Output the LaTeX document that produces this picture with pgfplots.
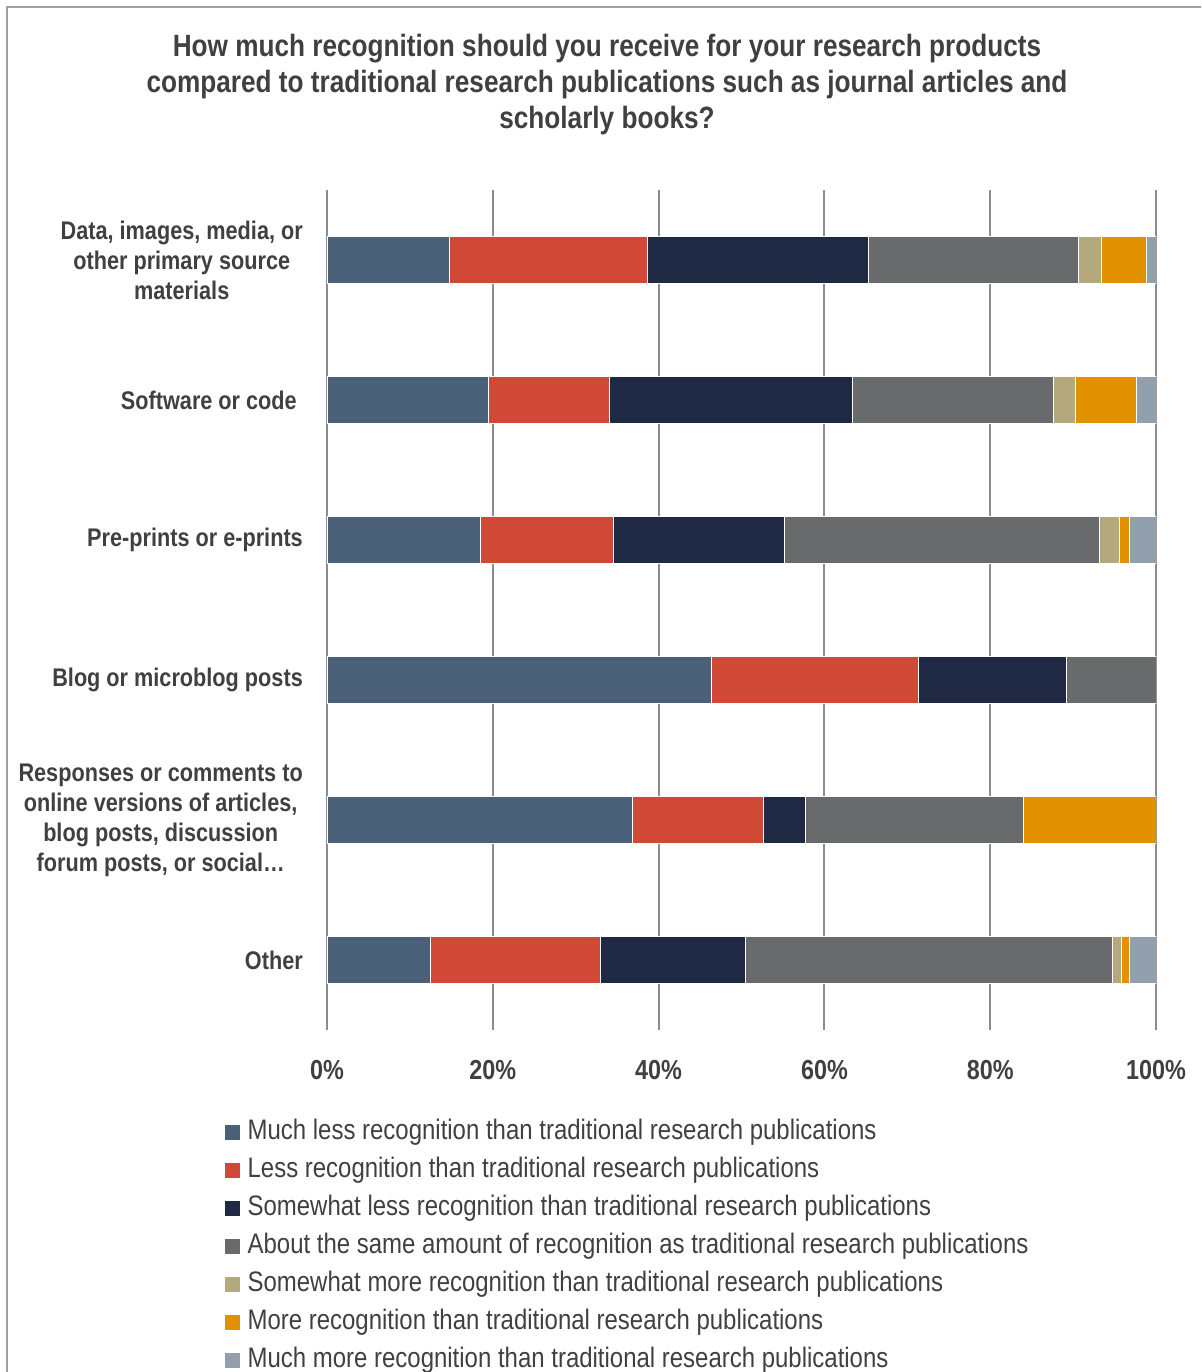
\documentclass[border=0pt]{standalone}
\usepackage{fontspec}
\setmainfont{Liberation Sans}[FakeStretch=0.85]
\usepackage{pgfplots}
\pgfplotsset{compat=1.18}
\definecolor{c1}{HTML}{4A6078}
\definecolor{c2}{HTML}{D04936}
\definecolor{c3}{HTML}{1F2944}
\definecolor{c4}{HTML}{696A6C}
\definecolor{c5}{HTML}{B4A97C}
\definecolor{c6}{HTML}{E19100}
\definecolor{c7}{HTML}{92A0AE}
\definecolor{txt}{HTML}{404040}
\definecolor{gridc}{HTML}{8C8C8C}
\definecolor{framec}{HTML}{A0A0A0}
\begin{document}
\begin{tikzpicture}[x=1pt,y=1pt]
\path[use as bounding box] (0,0) rectangle (1201,1372);
\draw[framec, line width=2pt] (7,0) -- (7,1365) -- (1201,1365);
\node[font=\fontsize{30.8}{36}\selectfont\bfseries, align=center, text=txt] at (607,1287)
  {How much recognition should you receive for your research products\\compared to traditional research publications such as journal articles and\\scholarly books?};
\begin{axis}[
  at={(327pt,342pt)}, anchor=south west,
  scale only axis, width=829pt, height=840pt,
  xbar stacked, bar width=47pt,
  xmin=0, xmax=100, ymin=-0.5, ymax=5.5, y dir=reverse,
  ytick={0,1,2,3,4,5},
  yticklabels={{Data, images, media, or\\other primary source\\materials},
               {Software or code\hspace*{6pt}},
               {Pre-prints or e-prints},
               {Blog or microblog posts},
               {Responses or comments to\\online versions of articles,\\blog posts, discussion\\forum posts, or social…},
               {Other}},
  yticklabel style={align=center, font=\fontsize{25.5}{30}\selectfont\bfseries, text=txt, inner sep=0pt, xshift=-24pt},
  xtick={0,20,40,60,80,100},
  xticklabels={0\%,20\%,40\%,60\%,80\%,100\%},
  xticklabel style={font=\fontsize{27.5}{30}\selectfont\bfseries, text=txt, inner sep=0pt, yshift=-30pt},
  axis line style={draw=none},
  major tick length=0pt,
  xmajorgrids, grid style={gridc, line width=2pt},
  every axis plot/.append style={draw=white, line width=0.4pt},
  legend image code/.code={\fill[#1] (-1pt,-8pt) rectangle (15pt,8pt);},
  legend cell align=left,
  legend style={at={(-0.1242,-0.1083)}, anchor=north west, draw=none, fill=none,
    inner sep=0pt, row sep=15pt, column sep=7pt,
    font=\fontsize{28.2}{28}\selectfont, text=txt,
    nodes={inner sep=0pt, text height=18pt, text depth=5pt}},
]
\addplot[fill=c1] coordinates {(14.7,0) (19.5,1) (18.5,2) (46.4,3) (36.8,4) (12.4,5)};
\addplot[fill=c2] coordinates {(23.9,0) (14.6,1) (16.0,2) (24.9,3) (15.8,4) (20.6,5)};
\addplot[fill=c3] coordinates {(26.7,0) (29.2,1) (20.6,2) (17.9,3) (5.1,4) (17.5,5)};
\addplot[fill=c4] coordinates {(25.3,0) (24.3,1) (38.1,2) (10.8,3) (26.3,4) (44.2,5)};
\addplot[fill=c5] coordinates {(2.8,0) (2.6,1) (2.4,2) (0,3) (0,4) (1.1,5)};
\addplot[fill=c6] coordinates {(5.4,0) (7.4,1) (1.2,2) (0,3) (16.0,4) (1.0,5)};
\addplot[fill=c7] coordinates {(1.2,0) (2.4,1) (3.2,2) (0,3) (0,4) (3.2,5)};
\legend{Much less recognition than traditional research publications,
Less recognition than traditional research publications,
Somewhat less recognition than traditional research publications,
About the same amount of recognition as traditional research publications,
Somewhat more recognition than traditional research publications,
More recognition than traditional research publications,
Much more recognition than traditional research publications}
\end{axis}
\end{tikzpicture}
\end{document}
